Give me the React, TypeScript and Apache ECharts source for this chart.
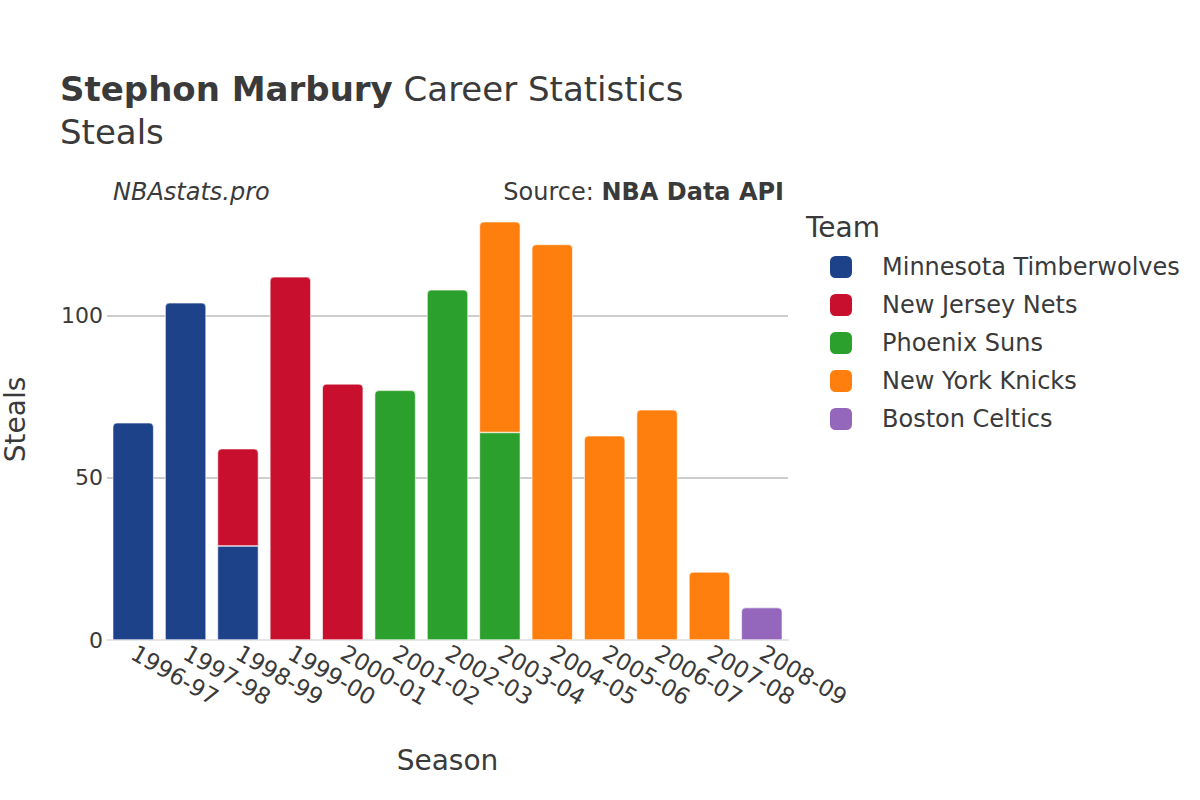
import React, { useEffect, useRef } from "react";
import * as echarts from "echarts";

const seasons = ["1996-97","1997-98","1998-99","1999-00","2000-01","2001-02","2002-03","2003-04","2004-05","2005-06","2006-07","2007-08","2008-09"];
const teams = ["Minnesota Timberwolves","New Jersey Nets","Phoenix Suns","New York Knicks","Boston Celtics"];
const colors = ["#1d428a","#c8102e","#2ca02c","#ff7f0e","#9467bd"];
const minValues = [67,104,29,null,null,null,null,null,null,null,null,null,null];
const njValues = [null,null,30,112,79,null,null,null,null,null,null,null,null];
const phxValues = [null,null,null,null,null,77,108,64,null,null,null,null,null];
const nykValues = [null,null,null,null,null,null,null,65,122,63,71,21,null];
const bosValues = [null,null,null,null,null,null,null,null,null,null,null,null,10];
const yTicks = [0, 50, 100];

const FONT = "DejaVu Sans";
const TXT = "#3a3a3a";

export default function App() {
  const ref = useRef<HTMLDivElement>(null);
  useEffect(() => {
    if (!ref.current) return;
    const chart = echarts.init(ref.current, null, { renderer: "svg" });
    const all = [minValues, njValues, phxValues, nykValues, bosValues];
    const topIdx = seasons.map((_, i) => {
      let t = -1;
      all.forEach((arr, s) => { if (arr[i] != null) t = s; });
      return t;
    });
    const series = all.map((arr, s) => ({
      name: teams[s],
      type: "bar",
      stack: "total",
      barCategoryGap: "21.7%",
      itemStyle: { color: colors[s] },
      data: arr.map((v, i) =>
        v == null ? null : {
          value: v,
          itemStyle: {
            color: colors[s],
            borderColor: "#ffffff",
            borderWidth: 0.6,
            borderRadius: topIdx[i] === s ? [4, 4, 0, 0] : 0,
          },
        }
      ),
    }));
    chart.setOption({
      animation: false,
      backgroundColor: "#ffffff",
      textStyle: { fontFamily: FONT },
      grid: { left: 107, right: 412, top: 199, bottom: 160, containLabel: false, outerBoundsMode: "none" },
      legend: {
        orient: "vertical",
        left: 825,
        top: 250,
        itemWidth: 22,
        itemHeight: 22,
        itemGap: 14,
        icon: "roundRect",
        data: teams,
        textStyle: { fontFamily: FONT, fontSize: 24, lineHeight: 22, color: TXT, padding: [0, 0, 0, 25] },
      },
      xAxis: {
        type: "category",
        data: seasons,
        axisLine: { show: true, lineStyle: { color: "#e5e5e5", width: 2 } },
        axisTick: { show: false },
        axisLabel: { rotate: -30, fontFamily: FONT, fontSize: 23, color: TXT, margin: 11, interval: 0 },
        name: "Season",
        nameLocation: "middle",
        nameGap: 106,
        nameTextStyle: { fontFamily: FONT, fontSize: 28, color: TXT },
      },
      yAxis: {
        type: "value",
        min: yTicks[0],
        max: 136,
        interval: 50,
        axisLine: { show: false },
        axisTick: { show: false },
        axisLabel: { fontFamily: FONT, fontSize: 22, color: TXT, margin: 4, showMaxLabel: false },
        splitLine: { show: true, showMinLine: false, showMaxLine: false, lineStyle: { color: "#bdbdbd", width: 1.5 } },
        name: "Steals",
        nameLocation: "middle",
        nameGap: 78,
        nameRotate: 90,
        nameTextStyle: { fontFamily: FONT, fontSize: 28, color: TXT },
      },
      graphic: [
        {
          type: "text",
          x: 60,
          y: 89,
          style: {
            text: "{b|Stephon Marbury}{n| Career Statistics}",
            verticalAlign: "middle",
            rich: {
              b: { fontFamily: FONT, fontSize: 34, fontWeight: "bold", fill: TXT },
              n: { fontFamily: FONT, fontSize: 34, fill: TXT },
            },
          },
        },
        {
          type: "text",
          x: 60,
          y: 132,
          style: { text: "Steals", fontFamily: FONT, fontSize: 34, fill: TXT, verticalAlign: "middle" },
        },
        {
          type: "text",
          x: 113,
          y: 192,
          style: { text: "NBAstats.pro", fontFamily: FONT, fontSize: 24, fontStyle: "italic", fill: TXT, verticalAlign: "middle" },
        },
        {
          type: "text",
          x: 784,
          y: 192,
          style: {
            text: "{n|Source: }{b|NBA Data API}",
            align: "right",
            verticalAlign: "middle",
            rich: {
              n: { fontFamily: FONT, fontSize: 24, fill: TXT },
              b: { fontFamily: FONT, fontSize: 24, fontWeight: "bold", fill: TXT },
            },
          },
        },
        {
          type: "text",
          x: 806,
          y: 227,
          style: { text: "Team", fontFamily: FONT, fontSize: 28, fill: TXT, verticalAlign: "middle" },
        },
      ],
      series,
    });
    return () => chart.dispose();
  }, []);
  return <div ref={ref} style={{ width: 1200, height: 800, position: "absolute", left: 0, top: 0 }} />;
}
